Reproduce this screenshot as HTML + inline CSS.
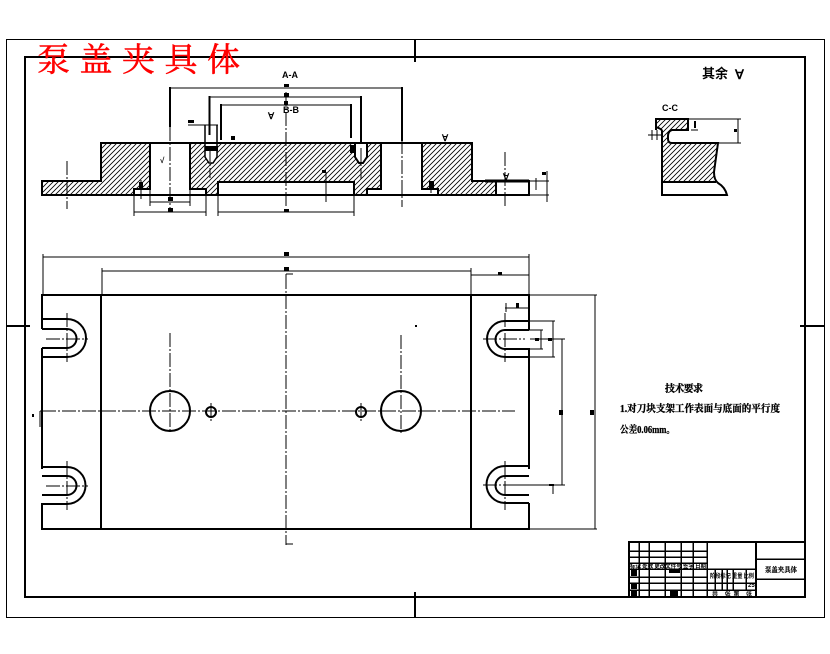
<!DOCTYPE html>
<html>
<head>
<meta charset="utf-8">
<style>
html,body{margin:0;padding:0;background:#fff;width:830px;height:654px;overflow:hidden}
svg{display:block}
text{font-family:"Liberation Serif","Noto Serif CJK SC",serif;fill:#000}
</style>
</head>
<body>
<svg width="830" height="654" viewBox="0 0 830 654" xmlns="http://www.w3.org/2000/svg">
<defs>
<pattern id="h" width="5" height="5" patternUnits="userSpaceOnUse">
<path d="M-1 6L6 -1M-1 1L1 -1M4 6L6 4" stroke="#000" stroke-width="0.8" fill="none"/>
</pattern>
</defs>
<rect width="830" height="654" fill="#fff"/>

<!-- frames -->
<g shape-rendering="crispEdges" fill="none" stroke="#000">
<rect x="6.5" y="39.5" width="818" height="578" stroke-width="1"/>
<rect x="25" y="57" width="780" height="540" stroke-width="2"/>
<path d="M415 39V62M415 592V617M6 326H30M800 326H824" stroke-width="2"/>
</g>

<!-- hatch fills -->
<g fill="url(#h)" stroke="none">
<path d="M101 143H150V189H134V195H42V181H101Z"/>
<path d="M190 143H381V189H367V195H354V182H218V195H206V189H190Z"/>
<path d="M422 143H472V181H496V195H438V189H422Z"/>
<path d="M656 119H688V130H672L668 135V140L672 143H668L662 131L656 127Z"/>
<path d="M662 131L668 143H718L714 175V182H662Z"/>
</g>

<!-- white drilled holes over hatching -->
<path d="M205 143V157L209 163H213L217 157V143Z" fill="#fff"/>
<path d="M355 143V157L359 163H363L367 157V143Z" fill="#fff"/>

<!-- section outlines -->
<g fill="none" stroke="#000" stroke-width="2" shape-rendering="crispEdges">
<path d="M101 143H472V181H529V195H42V181H101Z"/>
<path d="M150 143V189H134V195M190 143V189H206V195"/>
<path d="M218 195V182H354V195M367 195V189H381V143"/>
<path d="M422 143V189H438V195M496 181V195"/>
<path d="M485 181H529" stroke-width="3"/>
</g>
<g fill="none" stroke="#000" stroke-width="2">
<path d="M205 125V157L209 163H213L217 157V125" stroke-width="1.500"/>
<path d="M355 143V157L359 163H363L367 157V143"/>
<path d="M656 130V119H688V130H672Q668 131 668 136V139Q668 143 672 143H718L714 172Q714 180 718 183Q725 187 727 195H662V131Q662 129 656 127Z"/>
<path d="M662 182H716" />
</g>

<!-- section dim and extension lines -->
<g fill="none" stroke="#000" stroke-width="1" shape-rendering="crispEdges">
<path d="M170 88H402M209 97H361M220 105H351"/>
<path d="M134 195V216M206 195V216M150 189V206M190 189V206M150 202H190M134 212H206M218 195V216M354 195V216M218 212H354"/>
<path d="M530 181H549M530 195H549M547 171V202M536 178V190"/>
<path d="M691 130H698M688 119H741M718 143H741M738 119V143"/>
<path d="M648 135H662M652 130V140M657 130V140"/>
<path d="M326 172V202M188 125H218"/>
<path d="M141 180V199M431 187V193"/>
</g>
<g fill="none" stroke="#000" stroke-width="2" shape-rendering="crispEdges">
<path d="M170 87V127M209.500 96V135M221 104V140M402 87V141M361 96V143M351 104V138"/>
</g>

<!-- section centre lines -->
<g fill="none" stroke="#000" stroke-width="1" stroke-dasharray="14 2 2 2" shape-rendering="crispEdges">
<path d="M170 127V210M402 140V207M286 92V208M67 161V209M210 148V178M361 148V179M505 152V208"/>
</g>

<!-- plan view -->
<g fill="none" stroke="#000" stroke-width="2.400" shape-rendering="crispEdges">
<path d="M42 329V295H529V330M529 348V469M529 503V529H42V503M42 469V348M101 295V529M471 295V529"/>
<path d="M42 319H67M42 329H67M42 348H67M42 357H67M42 467H67M42 476H67M42 495H67M42 504H67"/>
<path d="M529 321H505M529 330H505M529 349H505M529 357H505M529 466H505M529 476H505M529 495H505M529 503H505"/>
</g>
<g fill="none" stroke="#000" stroke-width="2">
<path d="M67 319A19 19 0 0 1 67 357M67 329A9.500 9.500 0 0 1 67 348"/>
<path d="M67 467A18.500 18.500 0 0 1 67 504M67 476A9.500 9.500 0 0 1 67 495"/>
<path d="M505 321A18 18 0 0 0 505 357M505 330A9.500 9.500 0 0 0 505 349"/>
<path d="M505 466A18.500 18.500 0 0 0 505 503M505 476A9.500 9.500 0 0 0 505 495"/>
<circle cx="170" cy="411" r="20"/>
<circle cx="401" cy="411" r="20"/>
<circle cx="211" cy="412" r="5"/>
<circle cx="361" cy="412" r="5"/>
</g>
<g fill="none" stroke="#000" stroke-width="1" stroke-dasharray="14 2 2 2" shape-rendering="crispEdges">
<path d="M42 411H515M286 275V545M170 333V433M401 335V433M211 403V421M361 403V421M46 339H88M46 486H88M483 339H525M483 485H525M67 313V362M67 461V510M505 313V362M505 461V510"/>
</g>
<g fill="none" stroke="#000" stroke-width="1" shape-rendering="crispEdges">
<path d="M43 254V295M529 254V295M102 268V295M471 268V295"/>
<path d="M43 257H529M102 271H471M471 275H529"/>
<path d="M529 295H597M529 529H597M595 295V529"/>
<path d="M505 308H529M506 303V312"/>
<path d="M505 321H555M553 321V357M505 357H555"/>
<path d="M529 330H543M541 330V349M529 349H543"/>
<path d="M530 339H565M562 339V485M505 485H565"/>
<path d="M286 274H293M286 274V282M286 544V537M286 544H293"/>
<path d="M40 411V427M40 411H46"/>
<path d="M553 485V494"/>
</g>

<!-- small dimension labels -->
<g fill="#000" shape-rendering="crispEdges">
<rect x="284" y="84" width="5" height="3"/>
<rect x="284" y="93" width="5" height="4"/>
<rect x="284" y="101" width="4" height="4"/>
<rect x="188" y="120" width="6" height="3"/>
<rect x="231" y="136" width="4" height="4"/>
<rect x="168" y="197" width="5" height="4"/>
<rect x="168" y="208" width="5" height="4"/>
<rect x="284" y="209" width="5" height="3"/>
<rect x="322" y="170" width="4" height="3"/>
<rect x="139" y="182" width="4" height="7"/>
<rect x="429" y="181" width="5" height="7"/>
<rect x="542" y="172" width="4" height="3"/>
<rect x="284" y="252" width="5" height="4"/>
<rect x="284" y="267" width="5" height="4"/>
<rect x="498" y="272" width="4" height="3"/>
<rect x="516" y="303" width="3" height="5"/>
<rect x="535" y="338" width="4" height="3"/>
<rect x="548" y="338" width="4" height="3"/>
<rect x="559" y="410" width="4" height="5"/>
<rect x="590" y="410" width="4" height="5"/>
<rect x="205" y="146" width="13" height="5"/>
<rect x="350" y="145" width="5" height="8"/>
<rect x="734" y="129" width="3" height="3"/>
<rect x="694" y="121" width="2" height="7"/>
<rect x="32" y="414" width="2" height="3"/>
<rect x="415" y="325" width="2" height="2"/>
<rect x="549" y="484" width="5" height="2"/>
</g>

<!-- title -->
<text x="37" y="71" font-size="33" letter-spacing="9.500" style="fill:#f00;stroke:#f00;stroke-width:.5;font-family:'Noto Serif CJK SC',serif">泵盖夹具体</text>

<!-- section labels -->
<g font-weight="700">
<text x="282" y="78" font-size="9" style="font-family:'Liberation Sans',sans-serif">A-A</text>
<text x="283" y="113" font-size="9" style="font-family:'Liberation Sans',sans-serif">B-B</text>
<text x="662" y="111" font-size="9" style="font-family:'Liberation Sans',sans-serif">C-C</text>
<text x="268" y="119" font-size="9" style="font-family:'Liberation Sans',sans-serif">∀</text>
<text x="160" y="163" font-size="8" style="font-family:'Liberation Sans',sans-serif">√</text>
<text x="442" y="141" font-size="9" style="font-family:'Liberation Sans',sans-serif">∀</text>
<text x="503" y="180" font-size="9" style="font-family:'Liberation Sans',sans-serif">∀</text>
<text x="702" y="78" font-size="13" style="font-family:'Noto Sans CJK SC',sans-serif">其余</text>
<text x="735" y="79" font-size="13" style="font-family:'Liberation Sans',sans-serif">∀</text>
<text x="665" y="392" font-size="10" textLength="38" style="stroke:#000;stroke-width:.3;font-family:'Noto Serif CJK SC',serif">技术要求</text>
<text x="620" y="412" font-size="10" textLength="160" lengthAdjust="spacingAndGlyphs" style="stroke:#000;stroke-width:.3;font-family:'Liberation Serif','Noto Serif CJK SC',serif">1.对刀块支架工作表面与底面的平行度</text>
<text x="620" y="433" font-size="10" textLength="55" lengthAdjust="spacingAndGlyphs" style="stroke:#000;stroke-width:.3;font-family:'Liberation Serif','Noto Serif CJK SC',serif">公差0.06mm。</text>
</g>

<!-- title block -->
<g fill="none" stroke="#000" shape-rendering="crispEdges">
<path d="M629 542H805V597H629ZM756 542V597" stroke-width="2"/>
<path d="M629 551H707M629 557H707M629 563H707M629 569H756M629 577H707M629 583H756M629 590H756M756 559H805M756 579H805" stroke-width="1.500"/>
<path d="M639 542V597M649 542V597M665 542V597M681 542V597M693 542V597M707 542V597M715 569V590M722 569V590M727 569V590M733 569V590M746 569V590" stroke-width="1.500"/>
</g>
<g fill="#000" shape-rendering="crispEdges">
<rect x="669" y="570" width="11" height="3"/>
<rect x="631" y="570" width="6" height="6"/>
<rect x="631" y="584" width="6" height="5"/>
<rect x="631" y="591" width="6" height="5"/>
<rect x="670" y="591" width="8" height="5"/>
</g>
<g font-weight="700">
<text x="630" y="568" font-size="5.500" textLength="76" lengthAdjust="spacingAndGlyphs" style="font-family:'Noto Sans CJK SC',sans-serif">标记 处数 更改文件号 签字 日期</text>
<text x="710" y="578" font-size="6" textLength="44" lengthAdjust="spacingAndGlyphs" style="font-family:'Noto Sans CJK SC',sans-serif">阶段标记 重量 比例</text>
<text x="748" y="587" font-size="6" style="font-family:'Liberation Sans',sans-serif">25</text>
<text x="712" y="596" font-size="6" textLength="40" lengthAdjust="spacing" style="font-family:'Noto Sans CJK SC',sans-serif">共 张第 张</text>
<text x="765" y="572" font-size="7" textLength="32" lengthAdjust="spacingAndGlyphs" style="stroke:#000;stroke-width:.2;font-family:'Noto Serif CJK SC',serif">泵盖夹具体</text>
</g>
</svg>
</body>
</html>
